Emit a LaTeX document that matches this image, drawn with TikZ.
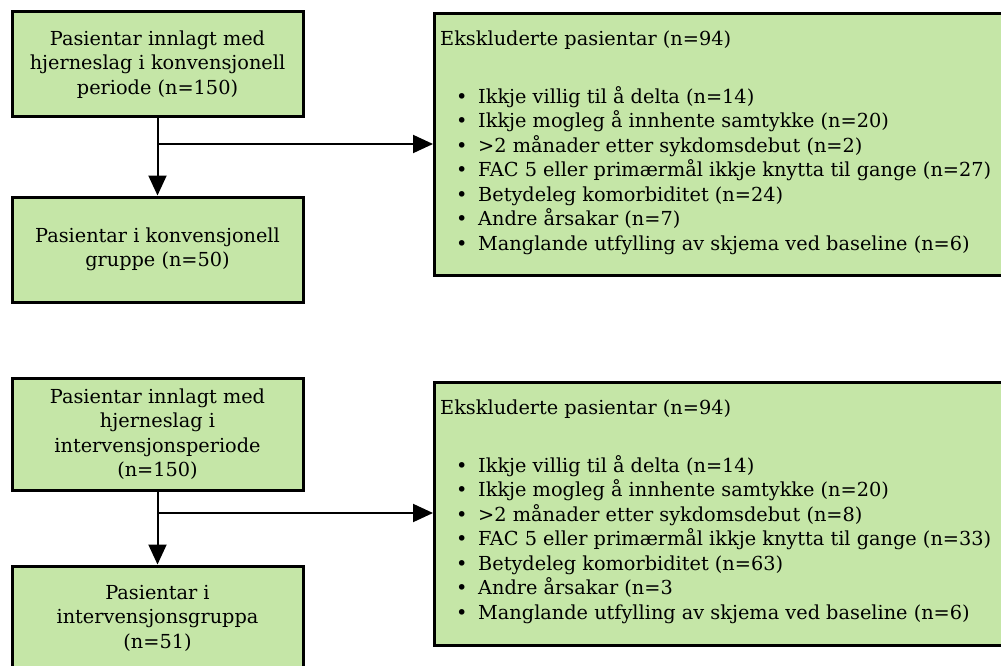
\documentclass[tikz,border=0pt]{standalone}
\usepackage{fontspec}
\setmainfont{DejaVu Serif}
\usetikzlibrary{arrows.meta}
\definecolor{boxgreen}{RGB}{197,230,167}
\newcommand{\bulletitem}[1]{\hspace*{16pt}\makebox[22pt][l]{\textbullet}#1}
\begin{document}
\begin{tikzpicture}[x=1pt,y=-1pt,
  txt/.style={font=\fontsize{19.3}{24.5}\selectfont},
  stepbox/.style={txt, draw=black, line width=3pt, fill=boxgreen,
    minimum width=291pt, inner sep=0pt, align=center},
  exclbox/.style={draw=black, line width=3pt, fill=boxgreen,
    minimum width=600pt, inner sep=0pt, anchor=north west},
  excltext/.style={txt, anchor=north west, inner sep=0pt, align=left},
  flow/.style={line width=2pt, -{Triangle[length=20pt,width=18pt]}},
  plain/.style={line width=2pt}
]
\useasboundingbox (0,0) rectangle (1001,666);
\clip (0,0) rectangle (1001,666);

% conventional period
\node[stepbox, minimum height=105pt] (adm1) at (157.5,64.5)
  {Pasientar innlagt med\\hjerneslag i konvensjonell\\periode (n=150)};
\node[stepbox, minimum height=105pt] (grp1) at (157.5,249.5)
  {Pasientar i konvensjonell\\gruppe (n=50)};
\node[exclbox, minimum height=262pt] (excl1) at (433,12) {};
\node[excltext] (excl1t) at (440,31) {Ekskluderte pasientar (n=94)\\[33pt]
  \bulletitem{Ikkje villig til å delta (n=14)}\\
  \bulletitem{Ikkje mogleg å innhente samtykke (n=20)}\\
  \bulletitem{>2 månader etter sykdomsdebut (n=2)}\\
  \bulletitem{FAC 5 eller primærmål ikkje knytta til gange (n=27)}\\
  \bulletitem{Betydeleg komorbiditet (n=24)}\\
  \bulletitem{Andre årsakar (n=7)}\\
  \bulletitem{Manglande utfylling av skjema ved baseline (n=6)}};

\coordinate (br1) at (157.5,144);
\draw[flow] (adm1.south) -- (grp1.north);
\draw[flow] (br1) -- (br1 -| excl1.west);

% intervention period
\node[stepbox, minimum height=112pt] (adm2) at (157.5,434)
  {Pasientar innlagt med\\hjerneslag i\\intervensjonsperiode\\(n=150)};
\node[stepbox, minimum height=104pt] (grp2) at (157.5,618)
  {Pasientar i\\intervensjonsgruppa\\(n=51)};
\node[exclbox, minimum height=263pt] (excl2) at (433,381) {};
\node[excltext] (excl2t) at (440,400) {Ekskluderte pasientar (n=94)\\[33pt]
  \bulletitem{Ikkje villig til å delta (n=14)}\\
  \bulletitem{Ikkje mogleg å innhente samtykke (n=20)}\\
  \bulletitem{>2 månader etter sykdomsdebut (n=8)}\\
  \bulletitem{FAC 5 eller primærmål ikkje knytta til gange (n=33)}\\
  \bulletitem{Betydeleg komorbiditet (n=63)}\\
  \bulletitem{Andre årsakar (n=3}\\
  \bulletitem{Manglande utfylling av skjema ved baseline (n=6)}};

\coordinate (br2) at (157.5,513);
\draw[flow] (adm2.south) -- (grp2.north);
\draw[flow] (br2) -- (br2 -| excl2.west);
\end{tikzpicture}
\end{document}
